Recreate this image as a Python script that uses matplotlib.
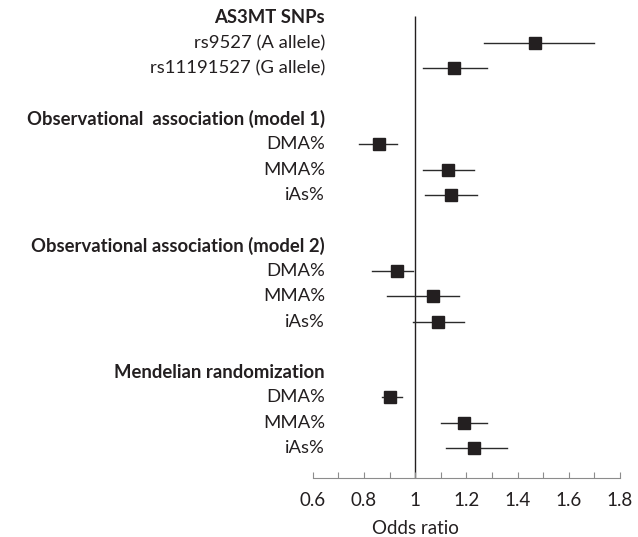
import matplotlib
matplotlib.use("Agg")
import matplotlib.pyplot as plt
from matplotlib.ticker import MultipleLocator, FuncFormatter

# Rows from top to bottom; headers carry no estimate
labels = [
    "AS3MT SNPs", "rs9527 (A allele)", "rs11191527 (G allele)", "",
    "Observational  association (model 1)", "DMA%", "MMA%", "iAs%", "",
    "Observational association (model 2)", "DMA%", "MMA%", "iAs%", "",
    "Mendelian randomization", "DMA%", "MMA%", "iAs%",
]
is_header = [True, False, False, False,
             True, False, False, False, False,
             True, False, False, False, False,
             True, False, False, False]

# Odds ratios and 95% CI (None for header / blank rows)
odds = [None, 1.47, 1.15, None,
        None, 0.86, 1.13, 1.14, None,
        None, 0.93, 1.07, 1.09, None,
        None, 0.90, 1.19, 1.23]
ci_low = [None, 1.27, 1.03, None,
          None, 0.78, 1.03, 1.04, None,
          None, 0.83, 0.89, 0.99, None,
          None, 0.87, 1.10, 1.12]
ci_high = [None, 1.70, 1.28, None,
           None, 0.93, 1.23, 1.24, None,
           None, 0.99, 1.17, 1.19, None,
           None, 0.95, 1.28, 1.36]

plt.rcParams["font.family"] = ["Lato", "DejaVu Sans"]
TEXT = "#231f20"

fig = plt.figure(figsize=(6.38, 5.37), dpi=100)
ax = fig.add_axes([0.4901, 0.1099, 0.4817, 0.8806])

n = len(labels)
for i in range(n):
    if odds[i] is not None:
        ax.plot([ci_low[i], ci_high[i]], [i, i], color="#2b2b2b", lw=1.0, zorder=2)
        ax.plot(odds[i], i, marker="s", ms=8, color=TEXT, zorder=3)
    if labels[i]:
        ax.text(0.648, i, labels[i], ha="right", va="center", color=TEXT,
                fontsize=13.3, fontweight="bold" if is_header[i] else "normal",
                clip_on=False)

ax.vlines(1.0, -0.05, 18.3, color=TEXT, lw=1.0, zorder=1)

ax.set_xlim(0.6, 1.8)
ax.set_ylim(18.18, -0.5)
ax.xaxis.set_major_locator(MultipleLocator(0.2))
ax.xaxis.set_minor_locator(MultipleLocator(0.1))
ax.xaxis.set_major_formatter(FuncFormatter(lambda v, p: "%g" % round(v, 1)))
ax.tick_params(axis="x", which="both", direction="in", length=4, width=0.8,
               color="#8c8c8c", labelsize=13.5, labelcolor=TEXT, pad=10)
ax.set_yticks([])
for side in ["top", "left", "right"]:
    ax.spines[side].set_visible(False)
ax.spines["bottom"].set_color("#8c8c8c")
ax.spines["bottom"].set_linewidth(0.8)

ax.text(1.0, -0.106, "Odds ratio", transform=ax.get_xaxis_transform(),
        ha="center", va="center", fontsize=13.5, color=TEXT)

fig.savefig("out.png", dpi=100)
